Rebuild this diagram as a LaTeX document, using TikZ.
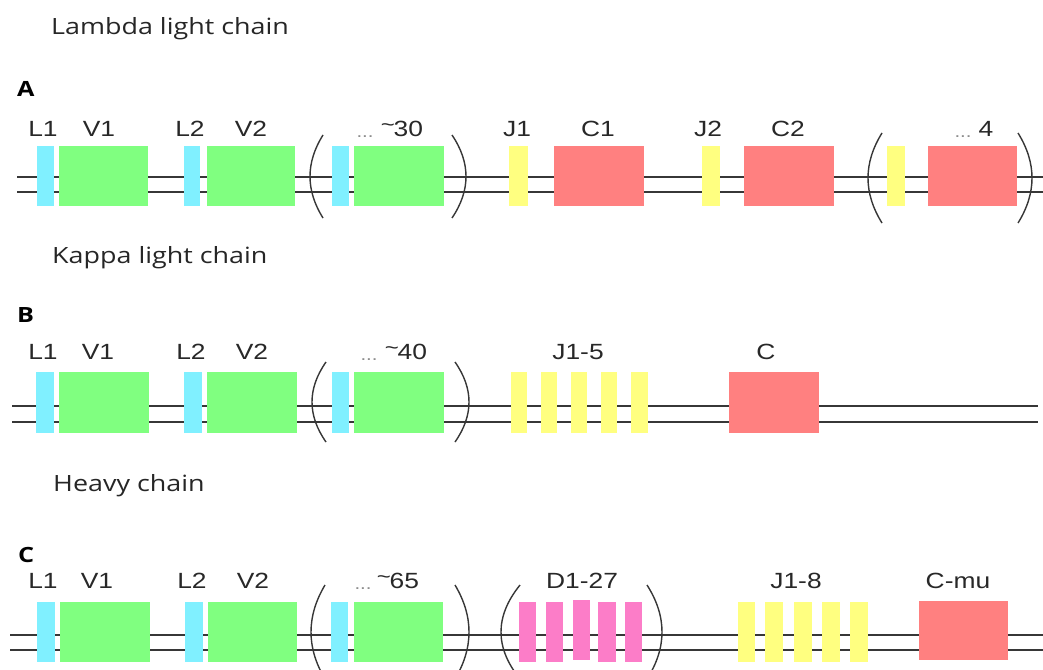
\documentclass[tikz,border=0pt]{standalone}
\usepackage{fontspec}
\setmainfont{Liberation Sans}
\newfontfamily\titlefont{Open Sans}
\definecolor{cyanseg}{RGB}{128,240,255}
\definecolor{greenseg}{RGB}{128,255,128}
\definecolor{yellowseg}{RGB}{255,255,128}
\definecolor{redseg}{RGB}{255,128,128}
\definecolor{pinkseg}{RGB}{252,125,200}
\definecolor{dnaline}{RGB}{55,55,55}
\definecolor{labelgray}{RGB}{40,40,40}
\definecolor{dotgray}{RGB}{140,140,140}
\tikzset{
  segbox/.style={rectangle, inner sep=0pt, outer sep=0pt, draw=none},
  dna/.style={draw=dnaline, line width=1.5pt},
  parenline/.style={draw=dnaline, line width=1.4pt},
  glabel/.style={anchor=base, inner sep=0pt, text=labelgray, xscale=1.2, font=\fontsize{22}{22}\selectfont},
  dots/.style={anchor=base, inner sep=0pt, text=dotgray, xscale=1.2, font=\fontsize{17}{17}\selectfont},
  title/.style={anchor=base west, inner sep=0pt, text=black!85, xscale=1.2, font=\titlefont\fontsize{22.4}{22}\selectfont},
  panel/.style={anchor=base west, inner sep=0pt, text=black, xscale=1.2, font=\titlefont\bfseries\fontsize{21}{21}\selectfont}
}
% #1 name, #2 colour, #3 x left, #4 x right, #5 y top, #6 y bottom
\newcommand{\genseg}[6]{\node[segbox, fill=#2, minimum width={#4-#3}, minimum height={#6-#5}] (#1) at ({(#3+#4)/2},{(#5+#6)/2}) {};}
% #1 x at ends, #2 x at middle, #3 y top, #4 y bottom
\newcommand{\parenarc}[4]{\draw[parenline] (#1,#3) .. controls ({(4*#2-#1)/3},{#3+(#4-#3)/3}) and ({(4*#2-#1)/3},{#3+2*(#4-#3)/3}) .. (#1,#4);}
\newcommand{\tld}{\raisebox{5pt}{\fontsize{20}{20}\selectfont\textasciitilde}\kern-1pt}
\begin{document}
\begin{tikzpicture}[x=1pt,y=-1pt]
\useasboundingbox (0,0) rectangle (1043,669);
\clip (0,0) rectangle (1043,669);
\fill[white] (0,0) rectangle (1043,669);

% ---------- titles ----------
\node[title] (tA) at (51,35) {Lambda light chain};
\node[title] (tB) at (52,263) {Kappa light chain};
\node[title] (tC) at (53,491) {Heavy chain};
\node[panel] (pA) at (17,96) {A};
\node[panel] (pB) at (17,322) {B};
\node[panel] (pC) at (18,562) {C};

% ---------- row A ----------
\coordinate (aS1) at (17,177); \coordinate (aE1) at (1043,177);
\coordinate (aS2) at (17,192); \coordinate (aE2) at (1043,192);
\draw[dna] (aS1) -- (aE1);
\draw[dna] (aS2) -- (aE2);
\genseg{aL1}{cyanseg}{37}{54}{146}{206}
\genseg{aV1}{greenseg}{59}{148}{146}{206}
\genseg{aL2}{cyanseg}{184}{200}{146}{206}
\genseg{aV2}{greenseg}{207}{295}{146}{206}
\genseg{aL3}{cyanseg}{332}{349}{146}{206}
\genseg{aV3}{greenseg}{354}{444}{146}{206}
\genseg{aJ1}{yellowseg}{509}{528}{146}{206}
\genseg{aC1}{redseg}{554}{644}{146}{206}
\genseg{aJ2}{yellowseg}{702}{720}{146}{206}
\genseg{aC2}{redseg}{744}{834}{146}{206}
\genseg{aJ3}{yellowseg}{887}{905}{146}{206}
\genseg{aC3}{redseg}{928}{1017}{146}{206}
\parenarc{323}{310}{135}{218}
\parenarc{452}{466}{135}{218}
\parenarc{882}{868}{133}{223}
\parenarc{1018}{1032}{133}{223}
\node[glabel] (laL1) at (43,136) {L1};
\node[glabel] (laV1) at (99,136) {V1};
\node[glabel] (laL2) at (190,136) {L2};
\node[glabel] (laV2) at (251,136) {V2};
\node[dots] (laD) at (365,137) {...};
\node[glabel] (laN) at (402,136) {\tld30};
\node[glabel] (laJ1) at (517,136) {J1};
\node[glabel] (laC1) at (598,136) {C1};
\node[glabel] (laJ2) at (708,136) {J2};
\node[glabel] (laC2) at (788,136) {C2};
\node[dots] (laD2) at (963,137) {...};
\node[glabel] (laN2) at (986,136) {4};

% ---------- row B ----------
\coordinate (bS1) at (12,406); \coordinate (bE1) at (1038,406);
\coordinate (bS2) at (12,422); \coordinate (bE2) at (1038,422);
\draw[dna] (bS1) -- (bE1);
\draw[dna] (bS2) -- (bE2);
\genseg{bL1}{cyanseg}{36}{54}{372}{433}
\genseg{bV1}{greenseg}{59}{149}{372}{433}
\genseg{bL2}{cyanseg}{184}{202}{372}{433}
\genseg{bV2}{greenseg}{207}{297}{372}{433}
\genseg{bL3}{cyanseg}{332}{349}{372}{433}
\genseg{bV3}{greenseg}{354}{444}{372}{433}
\genseg{bJ1}{yellowseg}{511}{527}{372}{433}
\genseg{bJ2}{yellowseg}{541}{557}{372}{433}
\genseg{bJ3}{yellowseg}{571}{587}{372}{433}
\genseg{bJ4}{yellowseg}{601}{617}{372}{433}
\genseg{bJ5}{yellowseg}{631}{648}{372}{433}
\genseg{bC}{redseg}{729}{819}{372}{433}
\parenarc{326}{312}{362}{442}
\parenarc{455}{469}{362}{442}
\node[glabel] (lbL1) at (43,359) {L1};
\node[glabel] (lbV1) at (98,359) {V1};
\node[glabel] (lbL2) at (191,359) {L2};
\node[glabel] (lbV2) at (252,359) {V2};
\node[dots] (lbD) at (369,360) {...};
\node[glabel] (lbN) at (406,359) {\tld40};
\node[glabel] (lbJ) at (578,359) {J1-5};
\node[glabel] (lbC) at (766,359) {C};

% ---------- row C ----------
\coordinate (cS1) at (10,635); \coordinate (cE1) at (1043,635);
\coordinate (cS2) at (10,650); \coordinate (cE2) at (1043,650);
\draw[dna] (cS1) -- (cE1);
\draw[dna] (cS2) -- (cE2);
\genseg{cL1}{cyanseg}{37}{55}{602}{662}
\genseg{cV1}{greenseg}{60}{150}{602}{662}
\genseg{cL2}{cyanseg}{185}{203}{602}{662}
\genseg{cV2}{greenseg}{208}{297}{602}{662}
\genseg{cL3}{cyanseg}{331}{348}{602}{662}
\genseg{cV3}{greenseg}{354}{443}{602}{662}
\genseg{cD1}{pinkseg}{519}{536}{602}{662}
\genseg{cD2}{pinkseg}{546}{563}{602}{662}
\genseg{cD3}{pinkseg}{573}{590}{600}{660}
\genseg{cD4}{pinkseg}{598}{616}{602}{662}
\genseg{cD5}{pinkseg}{625}{642}{602}{662}
\genseg{cJ1}{yellowseg}{738}{755}{602}{662}
\genseg{cJ2}{yellowseg}{765}{783}{602}{662}
\genseg{cJ3}{yellowseg}{794}{812}{602}{662}
\genseg{cJ4}{yellowseg}{822}{840}{602}{662}
\genseg{cJ5}{yellowseg}{850}{868}{602}{662}
\genseg{cC}{redseg}{919}{1008}{601}{660}
\parenarc{325}{311}{585}{679}
\parenarc{455}{469}{585}{679}
\parenarc{520}{501}{585}{679}
\parenarc{647}{662}{585}{679}
\node[glabel] (lcL1) at (43,588) {L1};
\node[glabel] (lcV1) at (97,588) {V1};
\node[glabel] (lcL2) at (192,588) {L2};
\node[glabel] (lcV2) at (253,588) {V2};
\node[dots] (lcD) at (363,589) {...};
\node[glabel] (lcN) at (398,588) {\tld65};
\node[glabel] (lcDl) at (582,588) {D1-27};
\node[glabel] (lcJ) at (796,588) {J1-8};
\node[glabel] (lcC) at (958,588) {C-mu};
\end{tikzpicture}
\end{document}
